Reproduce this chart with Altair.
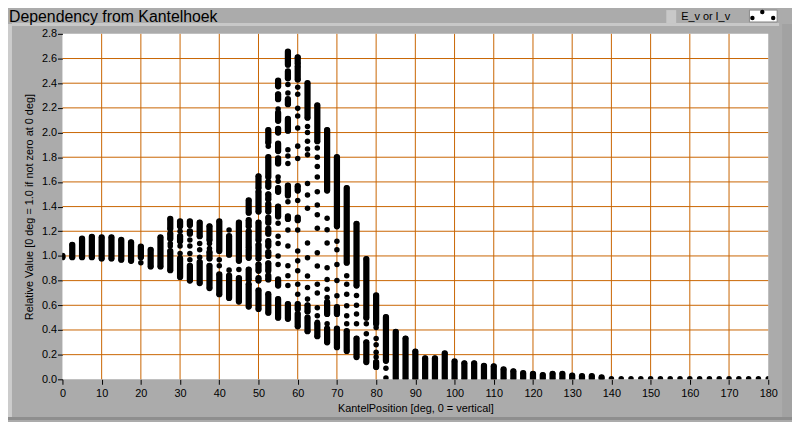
import altair as alt
import pandas as pd

# ---------------- data ----------------
angles = [0, 2.5, 5, 7.5, 10, 12.5, 15, 17.5, 20, 22.5, 25, 27.5, 30, 32.5, 35, 37.5,
          40, 42.5, 45, 47.5, 50, 52.5, 55, 57.5, 60, 62.5, 65, 67.5, 70, 72.5, 75, 77.5,
          80, 82.5, 85, 87.5, 90, 92.5, 95, 97.5, 100, 102.5, 105, 107.5, 110, 112.5, 115,
          117.5, 120, 122.5, 125, 127.5, 130, 132.5, 135, 137.5, 140, 142.5, 145, 147.5,
          150, 152.5, 155, 157.5, 160, 162.5, 165, 167.5, 170, 172.5, 175, 177.5, 180]

# for every angle: runs of measured points (low, high); low == high is a single point
runs = [
    [(0.99, 1.00)],
    [(0.99, 1.09)],
    [(0.99, 1.14)],
    [(0.99, 1.155)],
    [(0.98, 1.15)],
    [(0.98, 1.15)],
    [(0.97, 1.13)],
    [(0.96, 1.11)],
    [(0.945, 0.945), (0.99, 1.075)],
    [(0.915, 1.05)],
    [(0.915, 1.15)],
    [(0.885, 1.04), (1.08, 1.08), (1.10, 1.10), (1.14, 1.18), (1.22, 1.30)],
    [(0.83, 0.98), (1.02, 1.02), (1.08, 1.08), (1.12, 1.16), (1.20, 1.20), (1.24, 1.28)],
    [(0.80, 0.92), (0.97, 0.97), (1.02, 1.02), (1.08, 1.08), (1.13, 1.13), (1.18, 1.20), (1.25, 1.28)],
    [(0.78, 0.95), (0.99, 0.99), (1.05, 1.05), (1.10, 1.10), (1.16, 1.27)],
    [(0.74, 0.92), (0.98, 1.03), (1.06, 1.06), (1.10, 1.10), (1.13, 1.24)],
    [(0.69, 0.85), (0.92, 0.92), (0.97, 0.97), (1.04, 1.28)],
    [(0.66, 0.84), (0.885, 0.885), (1.01, 1.16), (1.21, 1.21)],
    [(0.63, 0.82), (0.89, 0.89), (0.96, 1.27)],
    [(0.59, 0.77), (0.81, 0.89), (0.985, 1.05), (1.07, 1.20), (1.24, 1.29), (1.35, 1.45)],
    [(0.57, 0.72), (0.80, 0.82), (0.88, 0.93), (0.98, 1.09), (1.13, 1.27), (1.36, 1.52), (1.55, 1.645)],
    [(0.54, 0.69), (0.81, 0.84), (0.88, 0.94), (1.00, 1.03), (1.08, 1.12), (1.18, 1.22), (1.27, 1.31),
     (1.36, 1.42), (1.46, 1.50), (1.56, 1.60), (1.64, 1.80), (1.89, 1.89), (1.92, 2.02)],
    [(0.50, 0.65), (0.76, 0.81), (0.93, 0.93), (1.00, 1.00), (1.10, 1.10), (1.16, 1.16), (1.265, 1.265),
     (1.32, 1.40), (1.52, 1.55), (1.605, 1.605), (1.64, 1.64), (1.75, 1.79), (1.85, 1.91), (2.00, 2.03),
     (2.095, 2.16), (2.19, 2.19), (2.27, 2.31), (2.375, 2.42)],
    [(0.49, 0.61), (0.76, 0.76), (0.84, 0.84), (0.92, 0.92), (1.08, 1.08), (1.21, 1.21), (1.30, 1.32),
     (1.44, 1.44), (1.49, 1.57), (1.75, 1.75), (1.81, 1.81), (1.86, 1.86), (2.015, 2.11), (2.23, 2.27),
     (2.32, 2.32), (2.39, 2.39), (2.44, 2.495), (2.55, 2.655)],
    [(0.43, 0.53), (0.57, 0.61), (0.69, 0.69), (0.77, 0.77), (0.88, 0.88), (0.96, 0.96), (1.04, 1.04),
     (1.21, 1.21), (1.29, 1.31), (1.45, 1.45), (1.53, 1.565), (1.79, 1.79), (1.89, 1.89), (2.036, 2.036),
     (2.135, 2.135), (2.196, 2.196), (2.31, 2.31), (2.367, 2.367), (2.43, 2.536), (2.56, 2.61)],
    [(0.39, 0.50), (0.55, 0.60), (0.65, 0.65), (0.744, 0.744), (0.838, 0.838), (0.985, 0.985),
     (1.105, 1.105), (1.386, 1.386), (1.493, 1.493), (1.587, 1.587), (1.82, 1.82), (1.867, 1.867),
     (1.93, 1.93), (2.00, 2.00), (2.05, 2.05), (2.12, 2.40)],
    [(0.35, 0.45), (0.463, 0.463), (0.516, 0.516), (0.58, 0.58), (0.70, 0.70), (0.77, 0.77),
     (0.918, 0.918), (1.025, 1.025), (1.225, 1.225), (1.333, 1.333), (1.413, 1.413), (1.52, 1.52),
     (1.64, 1.64), (1.725, 1.725), (1.80, 1.80), (1.875, 1.875), (1.93, 2.22)],
    [(0.30, 0.41), (0.45, 0.45), (0.53, 0.625), (0.664, 0.664), (0.73, 0.73), (0.81, 0.81),
     (0.905, 0.905), (1.105, 1.105), (1.212, 1.212), (1.306, 1.306), (1.53, 2.02)],
    [(0.26, 0.41), (0.53, 0.585), (0.677, 0.677), (0.80, 0.80), (0.93, 0.93), (1.05, 1.05),
     (1.12, 1.12), (1.24, 1.80)],
    [(0.23, 0.39), (0.45, 0.45), (0.516, 0.516), (0.596, 0.596), (0.69, 0.69), (0.77, 0.77),
     (0.84, 0.84), (0.945, 1.55)],
    [(0.18, 0.33), (0.45, 0.45), (0.53, 0.53), (0.60, 0.60), (0.68, 0.68), (0.76, 1.26)],
    [(0.14, 0.30), (0.37, 0.37), (0.45, 0.45), (0.50, 0.975)],
    [(0.10, 0.14), (0.18, 0.18), (0.22, 0.22), (0.28, 0.28), (0.33, 0.33), (0.42, 0.42), (0.45, 0.68)],
    [(0.01, 0.01), (0.09, 0.09), (0.15, 0.505)],
    [(0.0, 0.385)],
    [(0.0, 0.33)],
    [(0.0, 0.225)],
    [(0.0, 0.17)],
    [(0.0, 0.17)],
    [(0.0, 0.21)],
    [(0.0, 0.145)],
    [(0.0, 0.13)],
    [(0.0, 0.13)],
    [(0.0, 0.11)],
    [(0.0, 0.105)],
    [(0.0, 0.08)],
    [(0.0, 0.065)],
    [(0.0, 0.05)],
    [(0.0, 0.045)],
    [(0.0, 0.035)],
    [(0.0, 0.045)],
    [(0.0, 0.045)],
    [(0.0, 0.03)],
    [(0.0, 0.025)],
    [(0.0, 0.025)],
    [(0.0, 0.015)],
    [(0.005, 0.005)], [(0.005, 0.005)], [(0.005, 0.005)], [(0.005, 0.005)],
    [(0.005, 0.005)], [(0.005, 0.005)], [(0.005, 0.005)], [(0.005, 0.005)],
    [(0.005, 0.005)], [(0.005, 0.005)], [(0.005, 0.005)], [(0.005, 0.005)],
    [(0.005, 0.005)], [(0.005, 0.005)], [(0.005, 0.005)], [(0.005, 0.005)],
    [(0.005, 0.005)],
]

x_ticks = [0, 10, 20, 30, 40, 50, 60, 70, 80, 90, 100, 110, 120, 130, 140, 150, 160, 170, 180]
y_ticks = [0.0, 0.2, 0.4, 0.6, 0.8, 1.0, 1.2, 1.4, 1.6, 1.8, 2.0, 2.2, 2.4, 2.6, 2.8]
x_grid = [10, 20, 30, 40, 50, 60, 70, 80, 90, 100, 110, 120, 130, 140, 150, 160, 170]
y_grid = [0.2, 0.4, 0.6, 0.8, 1.0, 1.2, 1.4, 1.6, 1.8, 2.0, 2.2, 2.4, 2.6]

title_text = "Dependency from Kantelhoek"
legend_text = "E_v or I_v"
x_title = "KantelPosition [deg, 0 = vertical]"
y_title = "Relative Value [0 deg = 1.0 if not zero at 0 deg]"

# ---------------- tables ----------------
seg_rows, pt_rows = [], []
for a, rr in zip(angles, runs):
    for lo, hi in rr:
        if hi > lo:
            seg_rows.append({"x": a, "lo": lo, "hi": hi})
        pt_rows.append({"x": a, "y": lo})
        if hi != lo:
            pt_rows.append({"x": a, "y": hi})
segs = pd.DataFrame(seg_rows)
pts = pd.DataFrame(pt_rows)
gx = pd.DataFrame({"x": x_grid})
gy = pd.DataFrame({"y": y_grid})
one = pd.DataFrame({"k": [0]})

FONT = "Liberation Sans"
GRID = "#C86400"
BG = "#ABABAB"

xscale = alt.Scale(domain=[0, 180], nice=False, zero=False)
yscale = alt.Scale(domain=[0, 2.8], nice=False, zero=False)
xaxis = alt.Axis(values=x_ticks, title=x_title, grid=False, domain=False, tickSize=5,
                 tickColor="black", labelColor="black", labelFont=FONT, labelFontSize=11,
                 labelPadding=3, labelFlush=False, labelOverlap=False,
                 titleFont=FONT, titleFontSize=11, titleFontWeight="normal", titleColor="black",
                 titleBaseline="alphabetic", titleY=33)
yaxis = alt.Axis(values=y_ticks, format=".1f", title=y_title, grid=False, domain=False, tickSize=5,
                 tickColor="black", labelColor="black", labelFont=FONT, labelFontSize=11,
                 labelPadding=1, labelFlush=False, labelOverlap=False,
                 titleFont=FONT, titleFontSize=11, titleFontWeight="normal", titleColor="black",
                 titleBaseline="middle", titleX=-33)

X = lambda f: alt.X(f, type="quantitative", scale=xscale, axis=xaxis)
Y = lambda f: alt.Y(f, type="quantitative", scale=yscale, axis=yaxis)

grid_x = alt.Chart(gx).mark_rule(color=GRID, strokeWidth=1).encode(x=X("x"))
grid_y = alt.Chart(gy).mark_rule(color=GRID, strokeWidth=1).encode(y=Y("y"))

bars = alt.Chart(segs).mark_rule(color="black", strokeWidth=6.3, strokeCap="round", clip=True).encode(
    x=X("x"), y=Y("lo"), y2="hi")
dots = alt.Chart(pts).mark_circle(color="black", size=31, opacity=1, clip=True).encode(
    x=X("x"), y=Y("y"))


def deco(x1, x2, y1, y2, color, stroke=None):
    kw = {"color": color}
    if stroke:
        kw.update(stroke=stroke, strokeWidth=1)
    return alt.Chart(one).mark_rect(**kw).encode(
        x=alt.value(x1), x2=alt.value(x2), y=alt.value(y1), y2=alt.value(y2))


frame = [
    deco(-55, -51, -10, 388, "#CCCCCC"),
    deco(-51, 724, -11, -8, "#C8C8C8"),
    deco(727, 737, -10, 390, "#A2A2A2"),
    deco(-55, 737, 387, 390, "#8E8E8E"),
    deco(610, 620, -24, -10, "#C8C8C8"),
    deco(694, 722, -24, -12, "white", stroke="#8A8A8A"),
]

leg_dots = alt.Chart(pd.DataFrame({"px": [697, 718, 707], "py": [-16, -16, -22]})).mark_circle(
    color="black", size=20, opacity=1).encode(x=alt.X("px:Q", scale=None), y=alt.Y("py:Q", scale=None))

title = alt.Chart(one).mark_text(text=title_text, font=FONT, fontSize=16, align="left",
                                 baseline="alphabetic", color="black").encode(
    x=alt.value(-54), y=alt.value(-12))
legend = alt.Chart(one).mark_text(text=legend_text, font=FONT, fontSize=11, align="left",
                                  baseline="alphabetic", color="black").encode(
    x=alt.value(625), y=alt.value(-14))

chart = alt.layer(grid_x, grid_y, bars, dots, *frame, leg_dots, title, legend).properties(
    width=713, height=349,
    padding={"left": 55, "top": 24, "right": 24, "bottom": 41},
    autosize=alt.AutoSizeParams(type="none"),
    background=BG,
).configure_view(stroke=None, fill="white")

chart.save("out.html", embed_options={"renderer": "svg", "actions": False})
